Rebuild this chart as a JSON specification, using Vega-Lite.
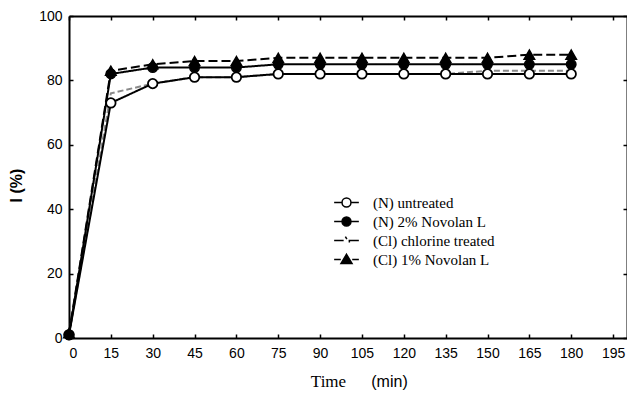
{
  "$schema": "https://vega.github.io/schema/vega-lite/v6.json",
  "width": 558,
  "height": 322,
  "autosize": {"type": "none"},
  "padding": {"left": 69, "top": 16, "right": 0, "bottom": 56},
  "background": "white",
  "config": {
    "view": {"stroke": null},
    "axis": {
      "labelFont": "Liberation Sans", "labelFontSize": 14, "labelColor": "black",
      "domainColor": "black", "domainWidth": 2, "tickColor": "black", "tickWidth": 1.5,
      "tickSize": -4, "grid": false, "titleColor": "black"
    },
    "legend": {
      "title": null, "orient": "none", "legendX": 267, "legendY": 176,
      "labelFont": "Liberation Serif", "labelFontSize": 15, "labelColor": "black",
      "symbolStrokeColor": "black", "symbolStrokeWidth": 1.5, "symbolSize": 361,
      "labelOffset": 16, "rowPadding": 0, "padding": 0
    }
  },
  "data": {
    "values": [
      {"s": "(Cl) chlorine treated", "t": 0, "v": 1},
      {"s": "(Cl) chlorine treated", "t": 15, "v": 76},
      {"s": "(Cl) chlorine treated", "t": 30, "v": 79},
      {"s": "(Cl) chlorine treated", "t": 45, "v": 81},
      {"s": "(Cl) chlorine treated", "t": 60, "v": 81},
      {"s": "(Cl) chlorine treated", "t": 75, "v": 82},
      {"s": "(Cl) chlorine treated", "t": 90, "v": 82},
      {"s": "(Cl) chlorine treated", "t": 105, "v": 82},
      {"s": "(Cl) chlorine treated", "t": 120, "v": 82},
      {"s": "(Cl) chlorine treated", "t": 135, "v": 82},
      {"s": "(Cl) chlorine treated", "t": 150, "v": 83},
      {"s": "(Cl) chlorine treated", "t": 165, "v": 83},
      {"s": "(Cl) chlorine treated", "t": 180, "v": 83},
      {"s": "(N) untreated", "t": 0, "v": 1},
      {"s": "(N) untreated", "t": 15, "v": 73},
      {"s": "(N) untreated", "t": 30, "v": 79},
      {"s": "(N) untreated", "t": 45, "v": 81},
      {"s": "(N) untreated", "t": 60, "v": 81},
      {"s": "(N) untreated", "t": 75, "v": 82},
      {"s": "(N) untreated", "t": 90, "v": 82},
      {"s": "(N) untreated", "t": 105, "v": 82},
      {"s": "(N) untreated", "t": 120, "v": 82},
      {"s": "(N) untreated", "t": 135, "v": 82},
      {"s": "(N) untreated", "t": 150, "v": 82},
      {"s": "(N) untreated", "t": 165, "v": 82},
      {"s": "(N) untreated", "t": 180, "v": 82},
      {"s": "(N) 2% Novolan L", "t": 0, "v": 1},
      {"s": "(N) 2% Novolan L", "t": 15, "v": 82},
      {"s": "(N) 2% Novolan L", "t": 30, "v": 84},
      {"s": "(N) 2% Novolan L", "t": 45, "v": 84},
      {"s": "(N) 2% Novolan L", "t": 60, "v": 84},
      {"s": "(N) 2% Novolan L", "t": 75, "v": 85},
      {"s": "(N) 2% Novolan L", "t": 90, "v": 85},
      {"s": "(N) 2% Novolan L", "t": 105, "v": 85},
      {"s": "(N) 2% Novolan L", "t": 120, "v": 85},
      {"s": "(N) 2% Novolan L", "t": 135, "v": 85},
      {"s": "(N) 2% Novolan L", "t": 150, "v": 85},
      {"s": "(N) 2% Novolan L", "t": 165, "v": 85},
      {"s": "(N) 2% Novolan L", "t": 180, "v": 85},
      {"s": "(Cl) 1% Novolan L", "t": 0, "v": 1.5},
      {"s": "(Cl) 1% Novolan L", "t": 15, "v": 83},
      {"s": "(Cl) 1% Novolan L", "t": 30, "v": 85},
      {"s": "(Cl) 1% Novolan L", "t": 45, "v": 86},
      {"s": "(Cl) 1% Novolan L", "t": 60, "v": 86},
      {"s": "(Cl) 1% Novolan L", "t": 75, "v": 87},
      {"s": "(Cl) 1% Novolan L", "t": 90, "v": 87},
      {"s": "(Cl) 1% Novolan L", "t": 105, "v": 87},
      {"s": "(Cl) 1% Novolan L", "t": 120, "v": 87},
      {"s": "(Cl) 1% Novolan L", "t": 135, "v": 87},
      {"s": "(Cl) 1% Novolan L", "t": 150, "v": 87},
      {"s": "(Cl) 1% Novolan L", "t": 165, "v": 88},
      {"s": "(Cl) 1% Novolan L", "t": 180, "v": 88}
    ]
  },
  "layer": [
    {
      "mark": {"type": "line", "strokeWidth": 2},
      "encoding": {
        "x": {"field": "t", "type": "quantitative", "scale": {"domain": [0, 200], "nice": false, "zero": false},
          "axis": {"values": [0, 15, 30, 45, 60, 75, 90, 105, 120, 135, 150, 165, 180, 195], "title": "Time",
            "titleFont": "Liberation Serif", "titleFontSize": 17, "titleFontWeight": "normal",
            "titleX": 259, "titleY": 43, "titleBaseline": "middle", "labelPadding": 12}},
        "y": {"field": "v", "type": "quantitative", "scale": {"domain": [0, 100], "nice": false},
          "axis": {"values": [0, 20, 40, 60, 80, 100], "title": "I (%)", "titleFont": "Liberation Sans",
            "titleFontSize": 16, "titleFontWeight": "bold", "titleX": -53, "titleY": 169,
            "titleAlign": "center", "titleBaseline": "middle", "labelPadding": 11}},
        "stroke": {"field": "s", "type": "nominal",
          "scale": {"domain": ["(N) untreated", "(N) 2% Novolan L", "(Cl) chlorine treated", "(Cl) 1% Novolan L"],
            "range": ["black", "black", "#8a8a8a", "black"]}, "legend": null},
        "strokeDash": {"field": "s", "type": "nominal",
          "scale": {"domain": ["(N) untreated", "(N) 2% Novolan L", "(Cl) chlorine treated", "(Cl) 1% Novolan L"],
            "range": [[1, 0], [1, 0], [6, 3], [9, 4]]}, "legend": null}
      }
    },
    {
      "transform": [{"filter": "datum.s === '(N) untreated'"}],
      "mark": {"type": "point", "shape": "circle", "fill": "white", "stroke": "black", "strokeWidth": 1.8, "opacity": 1, "size": 90},
      "encoding": {
        "x": {"field": "t", "type": "quantitative", "axis": null},
        "y": {"field": "v", "type": "quantitative", "axis": null}
      }
    },
    {
      "transform": [{"filter": "datum.s === '(N) 2% Novolan L'"}],
      "mark": {"type": "point", "shape": "circle", "fill": "black", "stroke": "black", "strokeWidth": 1.5, "opacity": 1, "size": 90},
      "encoding": {
        "x": {"field": "t", "type": "quantitative", "axis": null},
        "y": {"field": "v", "type": "quantitative", "axis": null}
      }
    },
    {
      "transform": [{"filter": "datum.s === '(Cl) 1% Novolan L'"}],
      "mark": {"type": "point", "shape": "triangle-up", "fill": "black", "stroke": "black", "strokeWidth": 1.5, "opacity": 1, "size": 110},
      "encoding": {
        "x": {"field": "t", "type": "quantitative", "axis": null},
        "y": {"field": "v", "type": "quantitative", "axis": null}
      }
    },
    {
      "transform": [{"filter": "datum.t < 0"}],
      "mark": {"type": "point", "strokeWidth": 1.5, "opacity": 1},
      "encoding": {
        "x": {"field": "t", "type": "quantitative", "axis": null},
        "y": {"field": "v", "type": "quantitative", "axis": null},
        "shape": {"field": "s", "type": "nominal",
          "scale": {"domain": ["(N) untreated", "(N) 2% Novolan L", "(Cl) chlorine treated", "(Cl) 1% Novolan L"],
            "range": [
              "M-1.3,0L-0.47,0M0.47,0L1.3,0M-0.47,0A0.47,0.47 0 1,0 0.47,0A0.47,0.47 0 1,0 -0.47,0Z",
              "M-1.3,0L-0.47,0M0.47,0L1.3,0M-0.47,0A0.47,0.47 0 1,0 0.47,0A0.47,0.47 0 1,0 -0.47,0Z",
              "M-1.3,0L-0.3,0M-0.12,-0.42L0.04,-0.14M0.3,0.22L0.3,0L1.3,0",
              "M-1.3,0L-0.6,0M0.6,0L1.3,0M0,-0.55L0.58,0.42L-0.58,0.42Z"
            ]}},
        "fill": {"field": "s", "type": "nominal",
          "scale": {"domain": ["(N) untreated", "(N) 2% Novolan L", "(Cl) chlorine treated", "(Cl) 1% Novolan L"],
            "range": ["white", "black", "white", "black"]}},
        "stroke": {"field": "s", "type": "nominal",
          "scale": {"domain": ["(N) untreated", "(N) 2% Novolan L", "(Cl) chlorine treated", "(Cl) 1% Novolan L"],
            "range": ["black", "black", "black", "black"]}},
        "size": {"value": 361}
      }
    },
    {
      "transform": [{"filter": "datum.t < 0"}],
      "mark": "point",
      "encoding": {
        "x": {"field": "t", "type": "quantitative",
          "axis": {"orient": "top", "values": [0, 15, 30, 45, 60, 75, 90, 105, 120, 135, 150, 165, 180, 195], "labels": false, "title": null}},
        "y": {"field": "v", "type": "quantitative",
          "axis": {"orient": "right", "values": [0, 20, 40, 60, 80, 100], "labels": false, "title": null}}
      }
    },
    {
      "transform": [{"filter": "datum.t < 0"}],
      "mark": "point",
      "encoding": {
        "x": {"field": "t", "type": "quantitative",
          "axis": {"orient": "bottom", "labels": false, "ticks": false, "domain": false, "title": "(min)",
            "titleFont": "Liberation Sans", "titleFontSize": 16, "titleFontWeight": "normal",
            "titleX": 320, "titleY": 43, "titleBaseline": "middle"}},
        "y": {"field": "v", "type": "quantitative", "axis": null}
      }
    }
  ],
  "resolve": {
    "scale": {"shape": "independent", "fill": "independent", "stroke": "independent", "strokeDash": "independent"},
    "axis": {"x": "independent", "y": "independent"},
    "legend": {"shape": "independent", "fill": "independent", "stroke": "independent", "strokeDash": "independent"}
  }
}
